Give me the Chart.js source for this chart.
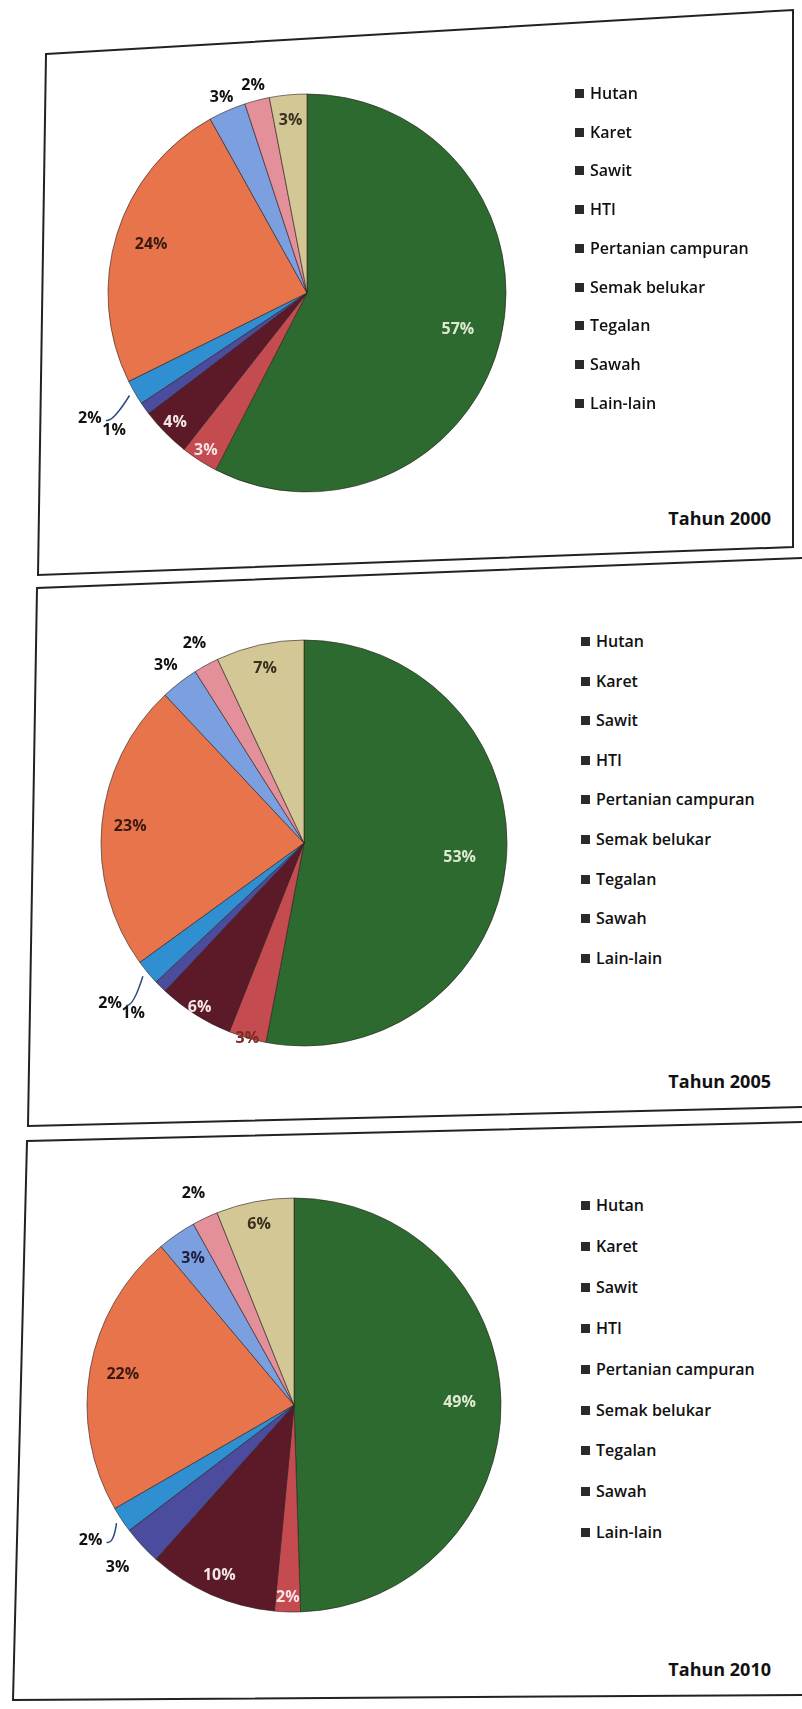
<!DOCTYPE html>
<html>
<head>
<meta charset="utf-8">
<script src="https://cdn.jsdelivr.net/npm/chart.js@4.4.1/dist/chart.umd.min.js"></script>
<style>
  body { margin: 0; background: #fff; width: 802px; height: 1709px; position: relative; overflow: hidden; font-family: 'Open Sans', sans-serif; }
  svg.frame { position: absolute; left: 0; top: 0; }
  canvas { position: absolute; }
  .legend { position: absolute; z-index: 2; color: #111; font-size: 16px; font-weight: 600; }
  .legend div { position: absolute; white-space: nowrap; line-height: 18px; }
  .legend span { display: inline-block; width: 9px; height: 9px; background: #2a2a2a; margin-right: 6px; vertical-align: 1px; }
  .title { position: absolute; z-index: 2; font-size: 18px; font-weight: 700; color: #111; white-space: nowrap; }
</style>
</head>
<body>
<svg class="frame" width="802" height="1709">
  <g fill="none" stroke="#222" stroke-width="2">
    <polygon points="46,54 793,10 793,547 38,575"/>
    <polyline points="802,558 37,588 28,1126 802,1107"/>
    <polyline points="802,1122 27,1141 13,1700 802,1695"/>
  </g>
</svg>
<canvas id="c2000" width="540" height="560"></canvas>
<canvas id="c2005" width="540" height="560"></canvas>
<canvas id="c2010" width="540" height="560"></canvas>

<script>
// data
const categories = ['Hutan', 'Karet', 'Sawit', 'HTI', 'Pertanian campuran', 'Semak belukar', 'Tegalan', 'Sawah', 'Lain-lain'];
const years = ['Tahun 2000', 'Tahun 2005', 'Tahun 2010'];
const share2000 = [57, 3, 4, 1, 2, 24, 3, 2, 3];
const share2005 = [53, 3, 6, 1, 2, 23, 3, 2, 7];
const share2010 = [49, 2, 10, 3, 2, 22, 3, 2, 6];

const sliceColors = ['#2d6a2f', '#c44c50', '#5c1a29', '#4b4c9e', '#2f8fd0', '#e8744c', '#7c9fe0', '#e3909a', '#d3c796'];
const insideText = ['#dfe9d0', '#f6e4e4', '#f3e6e6', '#f0f0f0', '#f0f0f0', '#3a1a10', '#202040', '#333', '#3a3020'];

// layout of each panel (style only)
const panels = [
  { id: 'c2000', values: share2000, title: years[0], cx: 307, cy: 293, r: 199,
    labelR: [.78, .94, .93, 1.19, 1.26, .82, 1.07, 1.08, .87],
    legX: 575, legY: 84, legStep: 38.7, titleY: 506 },
  { id: 'c2005', values: share2005, title: years[1], cx: 304, cy: 843, r: 203,
    labelR: [.77, 1.0, .96, 1.19, 1.24, .86, 1.11, 1.12, .88],
    legX: 581, legY: 632, legStep: 39.6, titleY: 1069 },
  { id: 'c2010', values: share2010, title: years[2], cx: 294, cy: 1405, r: 207,
    labelR: [.80, .93, .90, 1.16, 1.18, .84, .86, 1.13, .89],
    legX: 581, legY: 1196, legStep: 40.9, titleY: 1657 }
];

const pctLabels = {
  id: 'pctLabels',
  afterDatasetsDraw(chart, args, opts) {
    const ctx = chart.ctx;
    const meta = chart.getDatasetMeta(0);
    const vals = chart.data.datasets[0].data;
    ctx.save();
    ctx.font = 'bold 16px "Open Sans", sans-serif';
    ctx.textAlign = 'center';
    ctx.textBaseline = 'middle';
    meta.data.forEach((arc, i) => {
      const p = arc.getProps(['x', 'y', 'startAngle', 'endAngle', 'outerRadius'], true);
      const a = (p.startAngle + p.endAngle) / 2;
      const f = opts.labelR[i];
      const lx = p.x + Math.cos(a) * p.outerRadius * f;
      const ly = p.y + Math.sin(a) * p.outerRadius * f;
      if (i === 4) {
        // leader line for the small blue slice
        const ex = p.x + Math.cos(a) * p.outerRadius * 1.03;
        const ey = p.y + Math.sin(a) * p.outerRadius * 1.03;
        ctx.strokeStyle = '#2a4a80';
        ctx.lineWidth = 1.5;
        ctx.beginPath();
        ctx.moveTo(lx + 16, ly + 2);
        ctx.quadraticCurveTo(lx + 23, ly + 4, ex, ey);
        ctx.stroke();
      }
      ctx.fillStyle = f > 1.0 ? '#111' : (f === 1.0 ? '#7a2a20' : insideText[i]);
      ctx.fillText(vals[i] + '%', lx, ly);
    });
    ctx.restore();
  }
};

panels.forEach(pn => {
  const cv = document.getElementById(pn.id);
  cv.style.left = (pn.cx - cv.width / 2) + 'px';
  cv.style.top = (pn.cy - cv.height / 2) + 'px';

  new Chart(cv.getContext('2d'), {
    type: 'pie',
    data: {
      labels: categories,
      datasets: [{
        data: pn.values,
        backgroundColor: sliceColors,
        borderColor: 'rgba(40,30,30,0.6)',
        borderWidth: 1,
        radius: pn.r
      }]
    },
    options: {
      responsive: false,
      animation: false,
      plugins: {
        legend: { display: false },
        tooltip: { enabled: false },
        pctLabels: { labelR: pn.labelR }
      }
    },
    plugins: [pctLabels]
  });

  // legend on the right, same order as the slices
  const leg = document.createElement('div');
  leg.className = 'legend';
  leg.style.left = pn.legX + 'px';
  leg.style.top = pn.legY + 'px';
  categories.forEach((c, i) => {
    const it = document.createElement('div');
    it.style.top = (i * pn.legStep) + 'px';
    it.innerHTML = '<span></span>' + c;
    leg.appendChild(it);
  });
  document.body.appendChild(leg);

  const t = document.createElement('div');
  t.className = 'title';
  t.textContent = pn.title;
  t.style.right = (802 - 771) + 'px';
  t.style.top = pn.titleY + 'px';
  document.body.appendChild(t);
});
</script>
</body>
</html>
